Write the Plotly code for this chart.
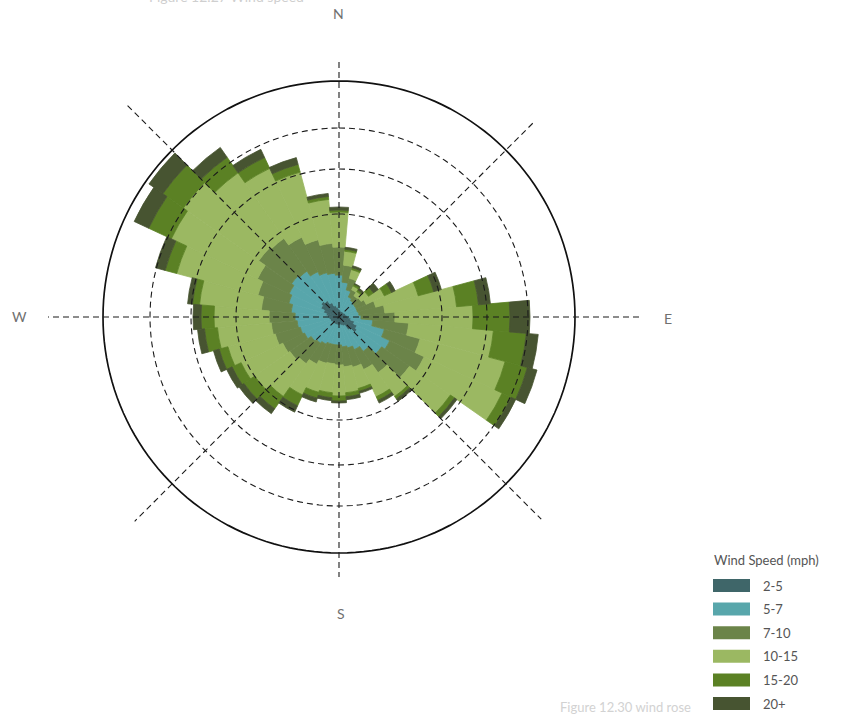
import plotly.graph_objects as go

# Wind direction bins (degrees clockwise from north), 10-degree sectors
DIRECTIONS = list(range(0, 360, 10))

SPEED_BINS = ["2-5", "5-7", "7-10", "10-15", "15-20", "20+"]
SPEED_COLORS = ["#3f6669", "#58a6ab", "#6b8449", "#9bb862", "#5b8124", "#475431"]

# Frequency (%) per direction for each wind speed class
freq_2_5 = [0.8, 0.7, 0.6, 0.6, 0.6, 0.6, 0.7, 0.7, 0.8, 0.9, 1.2, 1.6,
            2.0, 2.2, 1.6, 1.0, 0.9, 0.8, 0.8, 0.8, 0.8, 0.8, 0.8, 0.8,
            0.9, 0.9, 1.0, 1.1, 1.3, 1.6, 2.0, 2.2, 2.0, 1.6, 1.2, 1.0]
freq_5_7 = [3.4, 2.8, 2.2, 1.6, 1.4, 1.3, 1.2, 1.2, 1.2, 1.3, 2.2, 3.1,
            3.6, 3.0, 2.6, 2.6, 2.3, 2.2, 2.0, 2.0, 2.0, 2.2, 2.4, 2.6,
            2.9, 3.1, 3.2, 3.3, 3.5, 3.6, 3.5, 3.6, 3.6, 3.4, 3.4, 3.4]
freq_7_10 = [2.8, 1.7, 1.2, 0.8, 0.6, 0.8, 1.1, 1.9, 2.6, 3.4, 3.6, 3.7,
             3.8, 3.4, 2.6, 2.2, 2.0, 2.0, 2.0, 1.9, 2.0, 2.2, 2.5, 2.6,
             2.4, 2.6, 2.6, 2.6, 3.0, 3.2, 3.5, 4.0, 4.0, 3.8, 3.4, 3.0]
freq_10_15 = [3.5, 1.4, 0.9, 0.4, 0.5, 0.9, 2.0, 4.4, 7.2, 7.8, 8.5, 8.8,
              8.6, 5.0, 2.9, 3.0, 2.2, 2.6, 3.1, 2.9, 3.0, 3.4, 4.0, 4.3,
              4.6, 4.9, 5.4, 5.5, 6.2, 8.4, 9.5, 9.2, 8.0, 7.6, 7.0, 4.4]
freq_15_20 = [0.2, 0.2, 0.2, 0.2, 0.2, 0.6, 0.8, 1.6, 2.2, 3.7, 3.3, 2.3,
              1.0, 0.5, 0.3, 0.4, 0.3, 0.4, 0.5, 0.5, 0.6, 1.2, 1.5, 1.3,
              1.0, 0.9, 1.3, 1.3, 0.7, 1.2, 2.5, 2.5, 1.9, 1.2, 0.8, 0.3]
freq_20_plus = [0.3, 0.2, 0.2, 0.1, 0.2, 0.6, 0.4, 0.8, 1.2, 2.0, 1.2, 1.0,
                0.5, 0.3, 0.3, 0.3, 0.2, 0.3, 0.2, 0.3, 0.4, 0.7, 0.6, 0.6,
                0.6, 0.6, 0.7, 0.8, 0.5, 1.0, 1.6, 1.7, 1.2, 0.9, 0.7, 0.3]

SERIES = [freq_2_5, freq_5_7, freq_7_10, freq_10_15, freq_15_20, freq_20_plus]

# Dashed reference rings and the solid outer ring (same units as frequency)
RING_LEVELS = [10.3, 14.8, 18.9]
OUTER_RING = 23.6

# Compass spokes: (angle of one end, length), (angle of other end, length)
SPOKES = [((0, 25.5), (180, 26.0)),
          ((90, 30.0), (270, 29.1)),
          ((315, 29.9), (135, 28.6)),
          ((45, 27.4), (225, 28.9))]

FONT = "Lato"
W, H = 851, 715

fig = go.Figure()

for name, values, color in zip(SPEED_BINS, SERIES, SPEED_COLORS):
    fig.add_trace(go.Barpolar(
        r=values, theta=DIRECTIONS, width=[10] * len(DIRECTIONS),
        name=name,
        # outline in the fill colour hides anti-aliasing seams between wedges
        marker=dict(color=color, line=dict(width=0.8, color=color)),
        showlegend=False, hoverinfo="skip",
    ))

ring_theta = list(range(0, 361, 2))
for level in RING_LEVELS:
    fig.add_trace(go.Scatterpolar(
        r=[level] * len(ring_theta), theta=ring_theta, mode="lines",
        line=dict(color="#1a1a1a", width=1.1, dash="6px,4px"),
        showlegend=False, hoverinfo="skip",
    ))

fig.add_trace(go.Scatterpolar(
    r=[OUTER_RING] * len(ring_theta), theta=ring_theta, mode="lines",
    line=dict(color="#111111", width=1.7),
    showlegend=False, hoverinfo="skip",
))

for (a1, l1), (a2, l2) in SPOKES:
    fig.add_trace(go.Scatterpolar(
        r=[l1, 0, l2], theta=[a1, a1, a2], mode="lines",
        line=dict(color="#1a1a1a", width=1.1, dash="6px,4px"),
        showlegend=False, hoverinfo="skip",
    ))

# Polar area: centre (339, 317) px, radius 302 px
cx, cy, rad = 339, 317, 302
fig.update_layout(
    width=W, height=H,
    margin=dict(l=0, r=0, t=0, b=0),
    paper_bgcolor="white",
    plot_bgcolor="white",
    showlegend=False,
    polar=dict(
        domain=dict(x=[(cx - rad) / W, (cx + rad) / W],
                    y=[1 - (cy + rad) / H, 1 - (cy - rad) / H]),
        bgcolor="rgba(0,0,0,0)",
        bargap=0,
        barmode="stack",
        radialaxis=dict(range=[0, 30.2], showgrid=False, showline=False,
                        showticklabels=False, ticks=""),
        angularaxis=dict(rotation=90, direction="clockwise", showgrid=False,
                         showline=False, showticklabels=False, ticks=""),
    ),
)

annotations = []
# Compass letters
for label, px, py in [("N", 338, 13), ("E", 668, 318), ("S", 341, 613), ("W", 19, 316)]:
    annotations.append(dict(
        text=label, x=px / W, y=1 - py / H, xref="paper", yref="paper",
        xanchor="center", yanchor="middle", showarrow=False,
        font=dict(family=FONT, size=14, color="#707070"),
    ))

# Title line above the chart (runs off the top edge)
annotations.append(dict(
    text="Figure 12.27 Wind speed", x=147 / W, y=1 - 7 / H,
    xref="paper", yref="paper", xanchor="left", yanchor="bottom",
    showarrow=False, font=dict(family=FONT, size=14, color="#cfcfcf"),
))

# Caption
annotations.append(dict(
    text="Figure 12.30 wind rose", x=693 / W, y=1 - 707 / H,
    xref="paper", yref="paper", xanchor="right", yanchor="middle",
    showarrow=False, font=dict(family=FONT, size=13, color="#d2d2d2"),
))

# Legend
annotations.append(dict(
    text="Wind Speed (mph)", x=712 / W, y=1 - 560 / H,
    xref="paper", yref="paper", xanchor="left", yanchor="middle",
    showarrow=False, font=dict(family=FONT, size=13, color="#555555"),
))
shapes = []
row0, row_step = 585.5, 23.6
for i, (name, color) in enumerate(zip(SPEED_BINS, SPEED_COLORS)):
    yc = row0 + i * row_step
    shapes.append(dict(
        type="rect", xref="paper", yref="paper",
        x0=713 / W, x1=750 / W, y0=1 - (yc + 6.5) / H, y1=1 - (yc - 6.5) / H,
        fillcolor=color, line=dict(width=0),
    ))
    annotations.append(dict(
        text=name, x=761 / W, y=1 - yc / H, xref="paper", yref="paper",
        xanchor="left", yanchor="middle", showarrow=False,
        font=dict(family=FONT, size=13, color="#555555"),
    ))

fig.update_layout(annotations=annotations, shapes=shapes)

fig.write_html("out.html")
